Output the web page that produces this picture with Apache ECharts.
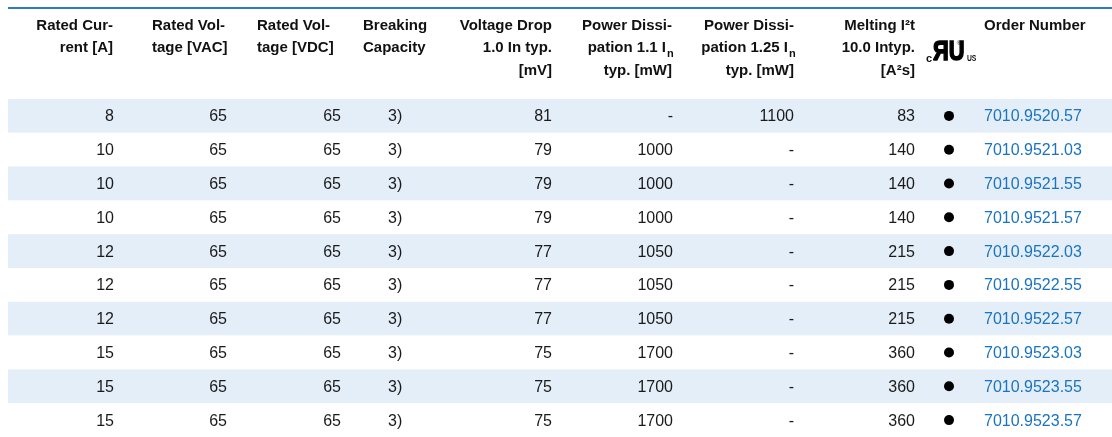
<!DOCTYPE html>
<html>
<head>
<meta charset="utf-8">
<script src="https://cdn.jsdelivr.net/npm/echarts@6/dist/echarts.min.js"></script>
<style>
html, body { margin: 0; padding: 0; background: #fff; }
#chart { width: 1112px; height: 437px; }
</style>
</head>
<body>
<div id="chart"></div>
<script>
// table values, one array per column
var ratedCurrent = [8, 10, 10, 10, 12, 12, 12, 15, 15, 15];
var ratedVAC = [65, 65, 65, 65, 65, 65, 65, 65, 65, 65];
var ratedVDC = [65, 65, 65, 65, 65, 65, 65, 65, 65, 65];
var breakingCap = ['3)', '3)', '3)', '3)', '3)', '3)', '3)', '3)', '3)', '3)'];
var voltageDrop = [81, 79, 79, 79, 77, 77, 77, 75, 75, 75];
var powerDiss11 = ['-', 1000, 1000, 1000, 1050, 1050, 1050, 1700, 1700, 1700];
var powerDiss125 = [1100, '-', '-', '-', '-', '-', '-', '-', '-', '-'];
var meltingI2t = [83, 140, 140, 140, 215, 215, 215, 360, 360, 360];
var ulApproved = [true, true, true, true, true, true, true, true, true, true];
var orderNumbers = ['7010.9520.57', '7010.9521.03', '7010.9521.55', '7010.9521.57', '7010.9522.03',
                    '7010.9522.55', '7010.9522.57', '7010.9523.03', '7010.9523.55', '7010.9523.57'];
var rowIds = ['1', '2', '3', '4', '5', '6', '7', '8', '9', '10'];

var headers = [
    ['Rated Cur-', 'rent [A]'],
    ['Rated Vol-', 'tage [VAC]'],
    ['Rated Vol-', 'tage [VDC]'],
    ['Breaking', 'Capacity'],
    ['Voltage Drop', '1.0 In typ.', '[mV]'],
    ['Power Dissi-', 'pation 1.1 I', 'typ. [mW]'],
    ['Power Dissi-', 'pation 1.25 I', 'typ. [mW]'],
    ['Melting I\u00b2t', '10.0 Intyp.', '[A\u00b2s]'],
    [],
    ['Order Number']
];

// layout (column anchors in pixels)
var colX = [114, 227, 341, 388, 552, 673, 794, 915, 949, 984];
var colAlign = ['right', 'right', 'right', 'left', 'right', 'right', 'right', 'right', 'center', 'left'];
var headX = [113, 152, 257, 363, 552, 672, 794, 915, null, 984];
var headAlign = ['right', 'left', 'left', 'left', 'right', 'right', 'right', 'right', null, 'left'];
var FAMILY = '"Liberation Sans", Arial, Helvetica, sans-serif';

var columns = [ratedCurrent, ratedVAC, ratedVDC, breakingCap, voltageDrop,
               powerDiss11, powerDiss125, meltingI2t, null, orderNumbers];

var cells = [];
columns.forEach(function (col, c) {
    if (!col) return;
    col.forEach(function (v, r) {
        cells.push({
            value: [colX[c], r],
            text: String(v),
            align: colAlign[c],
            color: c === 9 ? '#1a74c2' : '#1a1a1a'
        });
    });
});
var dots = [];
ulApproved.forEach(function (ok, r) {
    if (ok) dots.push([colX[8], r]);
});

function txt(x, y, text, font, align, extra) {
    var el = {
        type: 'text', x: x, y: y,
        style: {
            text: text, fill: '#111', font: font,
            align: align, verticalAlign: 'middle',
            textAlign: align, textVerticalAlign: 'middle'
        }
    };
    if (extra) {
        for (var k in extra) el[k] = extra[k];
    }
    return el;
}

// header texts
var graphics = [{
    type: 'rect',
    shape: { x: 8, y: 7, width: 1104, height: 2 },
    style: { fill: '#2b7cc3' }
}];
headers.forEach(function (lines, c) {
    lines.forEach(function (t, i) {
        var sub = (c === 5 || c === 6) && i === 1;
        var x = sub ? headX[c] - 6 : headX[c];
        var y = 25.5 + i * 22.5;
        graphics.push(txt(x, y, t, 'bold 15px ' + FAMILY, headAlign[c]));
        if (sub) {
            graphics.push(txt(x + 1, y + 6, 'n', 'bold 11px ' + FAMILY, 'left'));
        }
    });
});
// cULus mark
var logo = txt(933, 52, '\u042fU', 'bold 28px ' + FAMILY, 'left', { scaleX: 0.78, scaleY: 1.0 });
logo.style.fill = '#000';
logo.style.stroke = '#000';
logo.style.lineWidth = 1.6;
graphics.push(
    txt(929, 59, 'c', 'bold 11px ' + FAMILY, 'center'),
    logo,
    txt(959, 43, '\u00ae', '6px ' + FAMILY, 'center'),
    txt(967, 59, 'US', 'bold 9px ' + FAMILY, 'left', { scaleX: 0.75 })
);

var chart = echarts.init(document.getElementById('chart'));
chart.setOption({
    animation: false,
    backgroundColor: '#fff',
    grid: { left: 8, right: 0, top: 99, bottom: -2, containLabel: false },
    xAxis: { type: 'value', min: 8, max: 1112, show: false },
    yAxis: {
        type: 'category', data: rowIds, inverse: true,
        axisLine: { show: false }, axisTick: { show: false }, axisLabel: { show: false },
        splitLine: { show: false },
        splitArea: { show: true, areaStyle: { color: ['#e4eef8', '#ffffff'] } }
    },
    graphic: graphics,
    series: [{
        type: 'custom',
        clip: false,
        data: cells,
        renderItem: function (params, api) {
            var p = api.coord([api.value(0), api.value(1)]);
            var d = cells[params.dataIndex];
            return {
                type: 'text', x: p[0], y: p[1] + 1,
                style: {
                    text: d.text, fill: d.color, font: '16px ' + FAMILY,
                    align: d.align, verticalAlign: 'middle'
                }
            };
        }
    }, {
        type: 'custom',
        clip: false,
        data: dots,
        renderItem: function (params, api) {
            var p = api.coord([api.value(0), api.value(1)]);
            return { type: 'circle', shape: { cx: p[0], cy: p[1], r: 5 }, style: { fill: '#000' } };
        }
    }]
});
</script>
</body>
</html>
